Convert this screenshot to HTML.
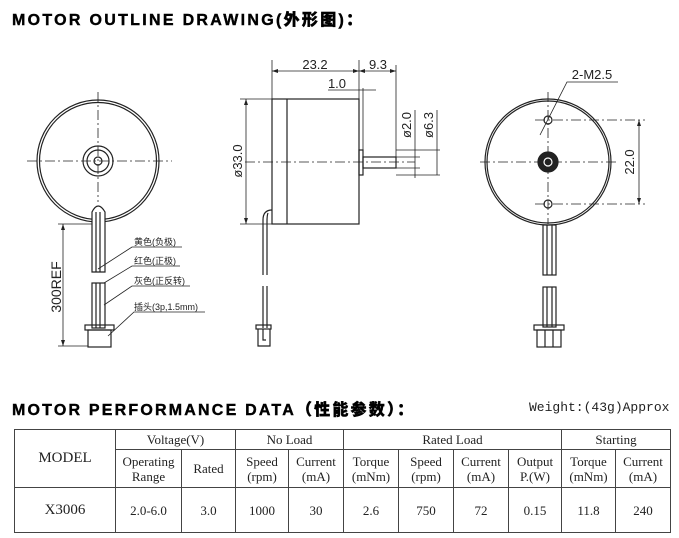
<!DOCTYPE html>
<html><head><meta charset="utf-8"><style>
body{margin:0;background:#fff;width:679px;height:538px;overflow:hidden;position:relative;font-family:"Liberation Sans","Noto Sans CJK SC",sans-serif}
.t{position:absolute;font-weight:900;font-size:16px;color:#000;white-space:nowrap;-webkit-text-stroke:0.4px #000}
table{position:absolute;left:14px;top:429px;border-collapse:collapse;font-family:"Liberation Serif","Noto Serif CJK SC",serif;font-size:13px;color:#222}
td{border:1.5px solid #444;text-align:center;padding:0;line-height:15px}
</style></head><body>
<div class="t" style="left:12px;top:6px;letter-spacing:2.3px">MOTOR OUTLINE DRAWING(外形图)：</div>
<div class="t" style="left:12px;top:396px;letter-spacing:2.2px">MOTOR PERFORMANCE DATA（性能参数）：</div>
<div style="position:absolute;left:529px;top:400px;font-family:'Liberation Mono',monospace;font-size:13px;color:#222">Weight:(43g)Approx</div>
<svg width="679" height="390" style="position:absolute;left:0;top:0" font-family="Liberation Sans, Noto Sans CJK SC, sans-serif">
<g fill="none" stroke="#222" stroke-width="1.2">
<circle cx="98" cy="161" r="61"/><circle cx="98" cy="161" r="58.5"/>
<circle cx="98" cy="161" r="15"/><circle cx="98" cy="161" r="11"/><circle cx="98" cy="161" r="4"/>
<line x1="27" y1="161" x2="172" y2="161" stroke-dasharray="10,3,2,3" stroke-width="0.8"/>
<line x1="98" y1="92" x2="98" y2="202" stroke-dasharray="10,3,2,3" stroke-width="0.8"/>
<path d="M92 212 Q98 200 105 212 L105 272 L92 272 Z" fill="#fff"/>
<line x1="96" y1="212" x2="96" y2="272"/><line x1="100" y1="212" x2="100" y2="272"/>
<rect x="92" y="283" width="13" height="45"/><line x1="96" y1="283" x2="96" y2="328"/><line x1="100" y1="283" x2="100" y2="328"/>
<rect x="85" y="325" width="29" height="5"/><rect x="88" y="330" width="23" height="17"/>
<line x1="63" y1="224" x2="63" y2="346" stroke-width="0.8"/>
<line x1="58" y1="224" x2="92" y2="224" stroke-width="0.8"/><line x1="58" y1="346" x2="88" y2="346" stroke-width="0.8"/>
<g stroke-width="0.8">
<path d="M98 269 L132 247 H182"/><path d="M104 283 L132 266 H180"/><path d="M104 305 L132 286 H190"/><path d="M108 336 L134 312 H205"/>
</g>
<rect x="272" y="99" width="87" height="125"/><line x1="287" y1="99" x2="287" y2="224"/>
<rect x="359" y="150" width="4" height="25"/>
<rect x="363" y="157" width="33" height="11"/>
<path d="M272 210 Q263 210 263 220 L263 275 M268 213 Q267 215 267 222 L267 275 M263 286 V328 M267 286 V328"/>
<rect x="256" y="325" width="15" height="4"/><path d="M258 329 V346 H270 V329 M263 329 V340 H266"/>
<g stroke-width="0.8">
<line x1="245" y1="162" x2="415" y2="162" stroke-dasharray="10,3,2,3"/>
<line x1="272" y1="60" x2="272" y2="99"/><line x1="359" y1="60" x2="359" y2="150"/><line x1="396" y1="65" x2="396" y2="157"/>
<line x1="272" y1="71" x2="359" y2="71"/><line x1="359" y1="71" x2="396" y2="71"/>
<line x1="328" y1="90" x2="376" y2="90"/><line x1="363" y1="88" x2="363" y2="150"/>
<line x1="240" y1="99" x2="272" y2="99"/><line x1="240" y1="224" x2="272" y2="224"/><line x1="246" y1="99" x2="246" y2="224"/>
<line x1="396" y1="157" x2="420" y2="157"/><line x1="396" y1="168" x2="420" y2="168"/><line x1="415" y1="110" x2="415" y2="178"/>
<line x1="396" y1="150" x2="440" y2="150"/><line x1="396" y1="175" x2="440" y2="175"/><line x1="437" y1="110" x2="437" y2="175"/>
<line x1="480" y1="162" x2="618" y2="162" stroke-dasharray="10,3,2,3"/>
<line x1="548" y1="92" x2="548" y2="224" stroke-dasharray="10,3,2,3"/>
<line x1="535" y1="120" x2="645" y2="120" stroke-dasharray="10,3,2,3"/>
<line x1="535" y1="204" x2="645" y2="204" stroke-dasharray="10,3,2,3"/>
<line x1="639" y1="120" x2="639" y2="204"/>
<path d="M540 135 L567 82 H618"/>
</g>
<g fill="#222" stroke="none">
<path d="M272 71 l6 -2 v4z M359 71 l-6 -2 v4z M359 71 l6 -2 v4z M396 71 l-6 -2 v4z M246 99 l-2 6 h4z M246 224 l-2 -6 h4z M639 120 l-2 6 h4z M639 204 l-2 -6 h4z M63 224 l-2 6 h4z M63 346 l-2 -6 h4z"/>
</g>
<circle cx="548" cy="162" r="63"/><circle cx="548" cy="162" r="61"/>
<circle cx="548" cy="120" r="4"/><circle cx="548" cy="204" r="4"/>
<circle cx="548" cy="162" r="10" fill="#222"/><circle cx="548" cy="162" r="4" stroke="#fff"/>
<rect x="543" y="225" width="13" height="50"/><line x1="547" y1="225" x2="547" y2="275"/><line x1="552" y1="225" x2="552" y2="275"/>
<rect x="543" y="287" width="13" height="40"/><line x1="547" y1="287" x2="547" y2="327"/><line x1="552" y1="287" x2="552" y2="327"/>
<rect x="534" y="325" width="30" height="5"/><rect x="537" y="330" width="24" height="17"/>
<line x1="545" y1="330" x2="545" y2="347"/><line x1="553" y1="330" x2="553" y2="347"/>
</g>
<g fill="#222" font-size="13">
<text x="315" y="69" text-anchor="middle">23.2</text>
<text x="378" y="69" text-anchor="middle">9.3</text>
<text x="337" y="88" text-anchor="middle">1.0</text>
<text x="592" y="79" text-anchor="middle">2-M2.5</text>
<text transform="translate(242,161) rotate(-90)" text-anchor="middle">ø33.0</text>
<text transform="translate(411,125) rotate(-90)" text-anchor="middle">ø2.0</text>
<text transform="translate(433,125) rotate(-90)" text-anchor="middle">ø6.3</text>
<text transform="translate(634,162) rotate(-90)" text-anchor="middle">22.0</text>
<text transform="translate(61,287) rotate(-90)" text-anchor="middle" font-size="14">300REF</text>
</g>
<g fill="#222" font-size="9">
<text x="134" y="245">黄色(负极)</text><text x="134" y="264">红色(正极)</text>
<text x="134" y="284">灰色(正反转)</text><text x="134" y="310">插头(3p,1.5mm)</text>
</g>
</svg>
<table>
<tr style="height:20px"><td rowspan="2" style="width:100px;font-size:15px">MODEL</td><td colspan="2">Voltage(V)</td><td colspan="2">No Load</td><td colspan="4">Rated Load</td><td colspan="2">Starting</td></tr>
<tr style="height:38px"><td style="width:65px">Operating<br>Range</td><td style="width:53px">Rated</td><td style="width:52px">Speed<br>(rpm)</td><td style="width:54px">Current<br>(mA)</td><td style="width:54px">Torque<br>(mNm)</td><td style="width:54px">Speed<br>(rpm)</td><td style="width:54px">Current<br>(mA)</td><td style="width:52px">Output<br>P.(W)</td><td style="width:53px">Torque<br>(mNm)</td><td style="width:54px">Current<br>(mA)</td></tr>
<tr style="height:45px"><td style="font-size:15px">X3006</td><td>2.0-6.0</td><td>3.0</td><td>1000</td><td>30</td><td>2.6</td><td>750</td><td>72</td><td>0.15</td><td>11.8</td><td>240</td></tr>
</table>
</body></html>
